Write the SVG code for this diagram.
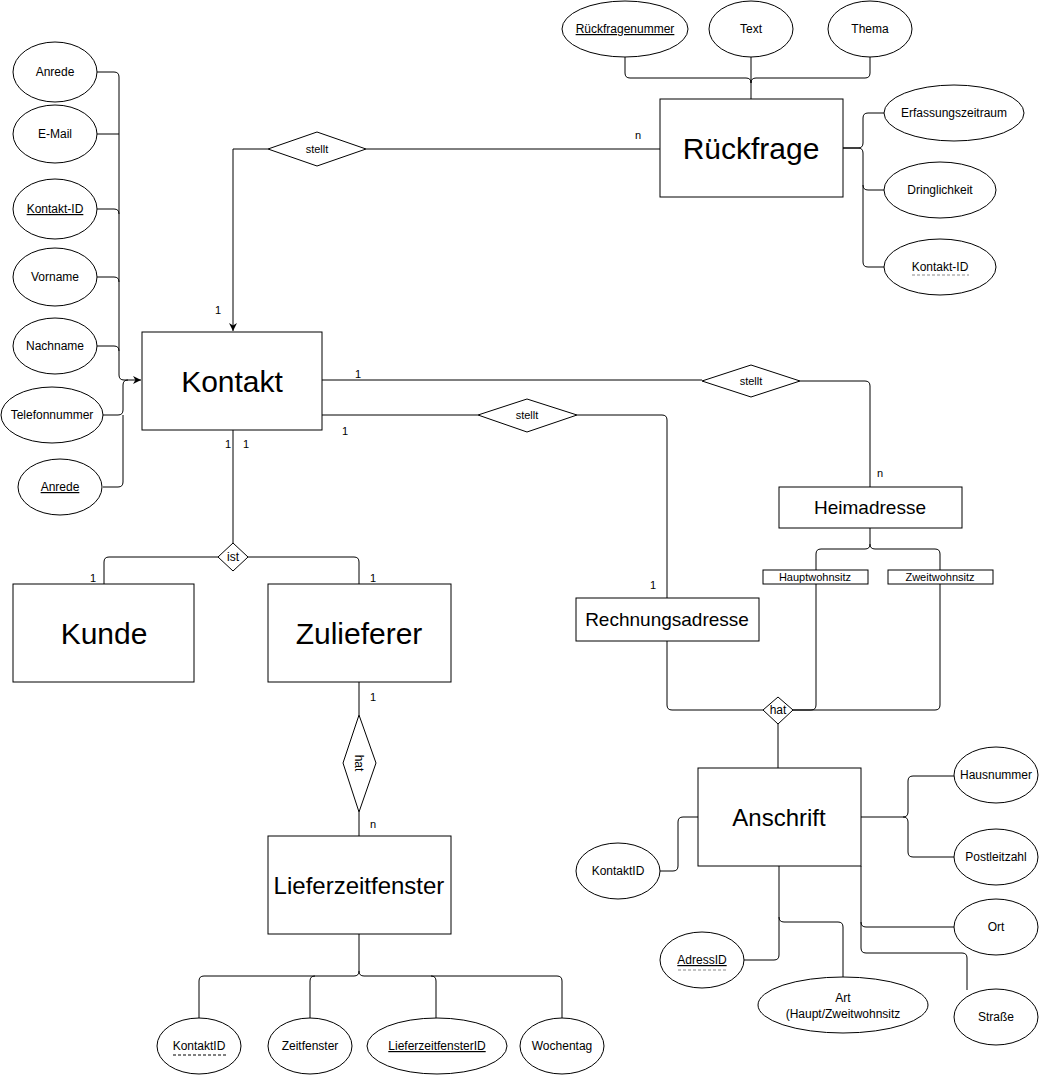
<svg xmlns="http://www.w3.org/2000/svg" width="1040" height="1075" viewBox="0 0 1040 1075">
<defs>
<style>
.ent{fill:#fff;stroke:#000;stroke-width:1}
.att{fill:#fff;stroke:#000;stroke-width:1}
.rel{fill:#fff;stroke:#000;stroke-width:1}
.lbl{fill:#fff;stroke:#000;stroke-width:1}
.c{fill:none;stroke:#000;stroke-width:1}
text{font-family:"Liberation Sans",Arial,Helvetica,sans-serif;fill:#000;text-anchor:middle}
.t30{font-size:30px}
.t24{font-size:24px}
.t19{font-size:19px}
.t12{font-size:12px}
.t11{font-size:11px}
.card{font-size:11px;text-anchor:start}
.u{text-decoration:underline}
.dg{stroke:#888;stroke-width:1;stroke-dasharray:3,2;fill:none}
.dk{stroke:#000;stroke-width:1;stroke-dasharray:3,2;fill:none}
</style>
<marker id="arr" viewBox="0 0 10 10" refX="10" refY="5" markerWidth="8" markerHeight="8" markerUnits="userSpaceOnUse" orient="auto">
<path d="M0,0 L10,5 L0,10 L3,5 Z" fill="#000"/>
</marker>
</defs>
<rect width="1040" height="1075" fill="#fff"/>

<g id="connectors">
<!-- Kontakt left attributes -->
<path class="c" d="M97,72 H114 Q119,72 119,77 V375 Q119,380 124,380 H141" marker-end="url(#arr)"/>
<path class="c" d="M97,134 H119"/>
<path class="c" d="M97,209 H114 Q119,209 119,214"/>
<path class="c" d="M97,277 H114 Q119,277 119,282"/>
<path class="c" d="M97,346 H114 Q119,346 119,351"/>
<path class="c" d="M103,415 H118 Q123,415 123,410 V385 Q123,380 128,380"/>
<path class="c" d="M103,487 H118 Q123,487 123,482 V415"/>
<!-- stellt Kontakt - Rueckfrage -->
<path class="c" d="M268,149 H233 V331" marker-end="url(#arr)"/>
<path class="c" d="M366,149 H660"/>
<!-- Rueckfrage attributes -->
<path class="c" d="M625,57 V73 Q625,78 630,78 H746 Q751,78 751,83"/>
<path class="c" d="M751,57 V99"/>
<path class="c" d="M870,57 V73 Q870,78 865,78 H756 Q751,78 751,83"/>
<path class="c" d="M843,148 H858 Q863,148 863,143 V118 Q863,113 868,113 H884"/>
<path class="c" d="M843,148 H858 Q863,148 863,153 V185 Q863,190 868,190 H884"/>
<path class="c" d="M863,185 V262 Q863,267 868,267 H884"/>
<!-- Kontakt - Heimadresse -->
<path class="c" d="M322,380 H702"/>
<path class="c" d="M800,381 H865 Q870,381 870,386 V487"/>
<!-- Kontakt - Rechnungsadresse -->
<path class="c" d="M322,415 H478"/>
<path class="c" d="M577,415 H662 Q667,415 667,420 V598"/>
<!-- addresses to hat -->
<path class="c" d="M667,641 V705 Q667,710 672,710 H763"/>
<path class="c" d="M870,528 V544 Q870,549 865,549 H821 Q816,549 816,554 V705 Q816,710 811,710 H793"/>
<path class="c" d="M870,544 Q870,549 875,549 H935 Q940,549 940,554 V705 Q940,710 935,710 H793"/>
<path class="c" d="M778,724 V768"/>
<!-- Anschrift attributes -->
<path class="c" d="M660,871 H673 Q678,871 678,866 V822 Q678,817 683,817 H698"/>
<path class="c" d="M861,817 H903 Q908,817 908,812 V781 Q908,776 913,776 H954"/>
<path class="c" d="M903,817 Q908,817 908,822 V852 Q908,857 913,857 H954"/>
<path class="c" d="M861,866 V922 Q861,927 866,927 H954"/>
<path class="c" d="M861,922 V948 Q861,953 866,953 H962 Q967,953 967,958 V990"/>
<path class="c" d="M779,866 V955 Q779,960 774,960 H743"/>
<path class="c" d="M779,917 Q779,922 784,922 H838 Q843,922 843,927 V978"/>
<!-- ist -->
<path class="c" d="M233,430 V543"/>
<path class="c" d="M218,557 H109 Q104,557 104,562 V584"/>
<path class="c" d="M248,557 H354 Q359,557 359,562 V584"/>
<!-- Zulieferer hat Lieferzeitfenster -->
<path class="c" d="M359,682 V715"/>
<path class="c" d="M359,812 V836"/>
<path class="c" d="M359,934 V971 Q359,976 354,976 H204 Q199,976 199,981 V1018"/>
<path class="c" d="M315,976 Q310,976 310,981 V1018"/>
<path class="c" d="M359,971 Q359,976 364,976 H557 Q562,976 562,981 V1018"/>
<path class="c" d="M431,976 Q436,976 436,981 V1018"/>
<!-- cardinalities -->
<text class="card" x="215" y="314">1</text>
<text class="card" x="635" y="139">n</text>
<text class="card" x="355" y="378">1</text>
<text class="card" x="342" y="435">1</text>
<text class="card" x="877" y="477">n</text>
<text class="card" x="650" y="589">1</text>
<text class="card" x="225" y="448">1</text>
<text class="card" x="243" y="448">1</text>
<text class="card" x="90" y="582">1</text>
<text class="card" x="370" y="582">1</text>
<text class="card" x="370" y="701">1</text>
<text class="card" x="370" y="828">n</text>
</g>

<!-- Kontakt attributes -->
<g id="attr-anrede1"><ellipse class="att" cx="55" cy="72" rx="42" ry="30"/><text class="t12" x="55" y="76">Anrede</text></g>
<g id="attr-email"><ellipse class="att" cx="55" cy="134" rx="42" ry="29"/><text class="t12" x="55" y="138">E-Mail</text></g>
<g id="attr-kontaktid"><ellipse class="att" cx="55" cy="209" rx="42" ry="30"/><text class="t12 u" x="55" y="213">Kontakt-ID</text></g>
<g id="attr-vorname"><ellipse class="att" cx="55" cy="277" rx="42" ry="29"/><text class="t12" x="55" y="281">Vorname</text></g>
<g id="attr-nachname"><ellipse class="att" cx="55" cy="346" rx="42" ry="28"/><text class="t12" x="55" y="350">Nachname</text></g>
<g id="attr-telefon"><ellipse class="att" cx="52" cy="415" rx="51" ry="28"/><text class="t12" x="52" y="419">Telefonnummer</text></g>
<g id="attr-anrede2"><ellipse class="att" cx="60" cy="487" rx="42" ry="28"/><text class="t12 u" x="60" y="491">Anrede</text></g>

<!-- Kontakt -->
<g id="kontakt"><rect class="ent" x="142" y="332" width="180" height="98"/><text class="t30" x="232" y="392">Kontakt</text></g>

<!-- stellt relationships -->
<g id="rel-stellt1"><polygon class="rel" points="268,149 317,132 366,149 317,166"/><text class="t11" x="317" y="153">stellt</text></g>
<g id="rel-stellt2"><polygon class="rel" points="702,381 751,365 800,381 751,397"/><text class="t11" x="751" y="385">stellt</text></g>
<g id="rel-stellt3"><polygon class="rel" points="478,415 527,399 577,415 527,432"/><text class="t11" x="527" y="419">stellt</text></g>

<!-- Rueckfrage -->
<g id="rueckfrage"><rect class="ent" x="660" y="99" width="183" height="98"/><text class="t30" x="751" y="159">Rückfrage</text></g>
<g id="attr-rfnummer"><ellipse class="att" cx="625" cy="29" rx="63" ry="28"/><text class="t12 u" x="625" y="33">Rückfragenummer</text></g>
<g id="attr-text"><ellipse class="att" cx="751" cy="29" rx="42" ry="28"/><text class="t12" x="751" y="33">Text</text></g>
<g id="attr-thema"><ellipse class="att" cx="870" cy="29" rx="42" ry="28"/><text class="t12" x="870" y="33">Thema</text></g>
<g id="attr-erfassung"><ellipse class="att" cx="954" cy="113" rx="70" ry="28"/><text class="t12" x="954" y="117">Erfassungszeitraum</text></g>
<g id="attr-dringlichkeit"><ellipse class="att" cx="940" cy="190" rx="56" ry="28"/><text class="t12" x="940" y="194">Dringlichkeit</text></g>
<g id="attr-rf-kontaktid"><ellipse class="att" cx="940" cy="267" rx="56" ry="28"/><text class="t12" x="940" y="271">Kontakt-ID</text><line class="dg" x1="912" y1="275" x2="969" y2="275"/></g>

<!-- ist -->
<g id="rel-ist"><polygon class="rel" points="218,557 233,543 248,557 233,571"/><text class="t12" x="233" y="561">ist</text></g>
<g id="kunde"><rect class="ent" x="13" y="584" width="181" height="98"/><text class="t30" x="104" y="644">Kunde</text></g>
<g id="zulieferer"><rect class="ent" x="268" y="584" width="183" height="98"/><text class="t30" x="359" y="644">Zulieferer</text></g>

<!-- hat Zulieferer -->
<g id="rel-hat1"><polygon class="rel" points="359,715 376,763 359,812 343,763"/><text class="t12" x="359" y="763" dy="4" transform="rotate(90 359 763)">hat</text></g>
<g id="lieferzeitfenster"><rect class="ent" x="268" y="836" width="183" height="98"/><text class="t24" x="359" y="894">Lieferzeitfenster</text></g>
<g id="attr-lz-kontaktid"><ellipse class="att" cx="199" cy="1046" rx="42" ry="28"/><text class="t12" x="199" y="1050">KontaktID</text><line class="dk" x1="173" y1="1055" x2="226" y2="1055"/></g>
<g id="attr-zeitfenster"><ellipse class="att" cx="310" cy="1046" rx="42" ry="28"/><text class="t12" x="310" y="1050">Zeitfenster</text></g>
<g id="attr-lzid"><ellipse class="att" cx="437" cy="1046" rx="70" ry="28"/><text class="t12 u" x="437" y="1050">LieferzeitfensterID</text></g>
<g id="attr-wochentag"><ellipse class="att" cx="562" cy="1046" rx="42" ry="28"/><text class="t12" x="562" y="1050">Wochentag</text></g>

<!-- addresses -->
<g id="heimadresse"><rect class="ent" x="779" y="487" width="183" height="41"/><text class="t19" x="870" y="514">Heimadresse</text></g>
<g id="rechnungsadresse"><rect class="ent" x="576" y="598" width="183" height="43"/><text class="t19" x="667" y="626">Rechnungsadresse</text></g>
<g id="lbl-haupt"><rect class="lbl" x="763" y="570" width="105" height="14"/><text class="t11" x="815" y="581">Hauptwohnsitz</text></g>
<g id="lbl-zweit"><rect class="lbl" x="888" y="570" width="105" height="14"/><text class="t11" x="940" y="581">Zweitwohnsitz</text></g>
<g id="rel-hat2"><polygon class="rel" points="763,710 778,697 793,710 778,724"/><text class="t12" x="778" y="714">hat</text></g>

<!-- Anschrift -->
<g id="anschrift"><rect class="ent" x="698" y="768" width="163" height="98"/><text class="t24" x="779" y="826">Anschrift</text></g>
<g id="attr-an-kontaktid"><ellipse class="att" cx="618" cy="871" rx="42" ry="28"/><text class="t12" x="618" y="875">KontaktID</text></g>
<g id="attr-adressid"><ellipse class="att" cx="702" cy="960" rx="42" ry="28"/><text class="t12 u" x="702" y="964">AdressID</text><line class="dg" x1="678" y1="970" x2="727" y2="970"/></g>
<g id="attr-art"><ellipse class="att" cx="843" cy="1005" rx="85" ry="28"/><text class="t12" x="843" y="1002">Art</text><text class="t12" x="843" y="1018">(Haupt/Zweitwohnsitz</text></g>
<g id="attr-hausnummer"><ellipse class="att" cx="996" cy="775" rx="42" ry="28"/><text class="t12" x="996" y="779">Hausnummer</text></g>
<g id="attr-plz"><ellipse class="att" cx="996" cy="857" rx="42" ry="28"/><text class="t12" x="996" y="861">Postleitzahl</text></g>
<g id="attr-ort"><ellipse class="att" cx="996" cy="927" rx="42" ry="28"/><text class="t12" x="996" y="931">Ort</text></g>
<g id="attr-strasse"><ellipse class="att" cx="996" cy="1017" rx="42" ry="28"/><text class="t12" x="996" y="1021">Straße</text></g>
</svg>
